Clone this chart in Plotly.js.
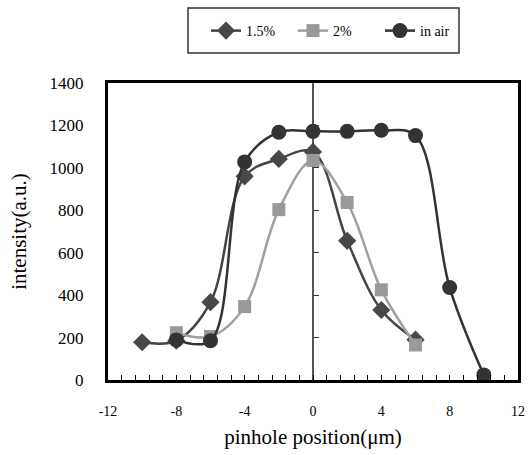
<!DOCTYPE html>
<html><head><meta charset="utf-8">
<script src="https://cdn.plot.ly/plotly-3.0.1.min.js"></script>
<style>html,body{margin:0;padding:0;background:#fff;}#chart{width:529px;height:455px;}</style>
</head><body><div id="chart"></div>
<script>
// Data
const seriesNames = ["1.5%", "2%", "in air"];
const x15 = [-10, -8, -6, -4, -2, 0, 2, 4, 6];
const y15 = [178, 185, 367, 960, 1042, 1075, 656, 330, 190];
const x2 = [-8, -6, -4, -2, 0, 2, 4, 6];
const y2 = [223, 205, 346, 803, 1035, 837, 425, 165];
const xAir = [-8, -6, -4, -2, 0, 2, 4, 6, 8, 10];
const yAir = [189, 185, 1028, 1168, 1172, 1172, 1177, 1152, 436, 24];
const xTicks = [-12, -8, -4, 0, 4, 8, 12];
const yTicks = [0, 200, 400, 600, 800, 1000, 1200, 1400];

const serif = "Liberation Serif, Times New Roman, serif";

// plot area in pixels (for converting the legend frame to paper coords)
const W = 529, H = 455, ML = 108, MR = 11, MT = 83, MB = 75;
const PW = W - ML - MR, PH = H - MT - MB;
const px = v => (v - ML) / PW;
const py = v => 1 + (MT - v) / PH;

const traces = [
  {x: x15, y: y15, name: seriesNames[0], mode: "lines+markers",
   line: {color: "#444444", width: 2.5, shape: "spline", smoothing: 1},
   marker: {symbol: "diamond", size: 14, color: "#484848"}},
  {x: x2, y: y2, name: seriesNames[1], mode: "lines+markers",
   line: {color: "#a0a0a0", width: 2.5, shape: "spline", smoothing: 1},
   marker: {symbol: "square", size: 13, color: "#999999"}},
  {x: xAir, y: yAir, name: seriesNames[2], mode: "lines+markers", yaxis: "y2",
   line: {color: "#333333", width: 2.5, shape: "spline", smoothing: 1},
   marker: {symbol: "circle", size: 15, color: "#333333"}}
];

const layout = {
  width: W, height: H,
  margin: {l: ML, r: MR, t: MT, b: MB},
  paper_bgcolor: "#ffffff", plot_bgcolor: "#ffffff",
  font: {family: serif, color: "#000000"},
  showlegend: true,
  legend: {orientation: "h", x: px(206), xanchor: "left", y: py(31), yanchor: "middle",
    borderwidth: 0, font: {family: serif, size: 14}, bgcolor: "rgba(0,0,0,0)",
    entrywidth: 42, entrywidthmode: "pixels"},
  shapes: [{type: "rect", xref: "paper", yref: "paper",
    x0: px(188), x1: px(459), y0: py(53), y1: py(8),
    line: {color: "#333333", width: 1.5}, fillcolor: "rgba(0,0,0,0)", layer: "below"}],
  xaxis: {range: [-12, 12], tickvals: xTicks, ticktext: xTicks.map(String),
    showgrid: false, zeroline: false, showline: true, linecolor: "#000", linewidth: 3,
    mirror: true, ticks: "inside", ticklen: 5, tickcolor: "#000", tickwidth: 1,
    minor: {dtick: 0.8, tick0: -12, ticks: "inside", ticklen: 5, tickcolor: "#000", showgrid: false},
    ticklabelstandoff: 16,
    tickfont: {family: serif, size: 14},
    title: {text: "pinhole position(\u03bcm)", font: {family: serif, size: 21}, standoff: 12},
    fixedrange: true},
  yaxis: {range: [0, 1400], tickvals: yTicks, ticktext: yTicks.map(String),
    showgrid: false, zeroline: false, showline: true, linecolor: "#000", linewidth: 3,
    mirror: true, ticks: "", ticklabelstandoff: 18,
    tickfont: {family: serif, size: 17},
    title: {text: "intensity(a.u.)", font: {family: serif, size: 21}, standoff: 18},
    fixedrange: true},
  yaxis2: {range: [0, 1400], tickvals: yTicks, overlaying: "y", anchor: "free", position: 0.5,
    side: "left", showgrid: false, zeroline: false, showline: true, linecolor: "#555555",
    linewidth: 2, ticks: "inside", ticklen: 5, tickcolor: "#333", showticklabels: false,
    layer: "below traces", fixedrange: true}
};

Plotly.newPlot("chart", traces, layout, {displayModeBar: false, staticPlot: true});
</script>
</body></html>
